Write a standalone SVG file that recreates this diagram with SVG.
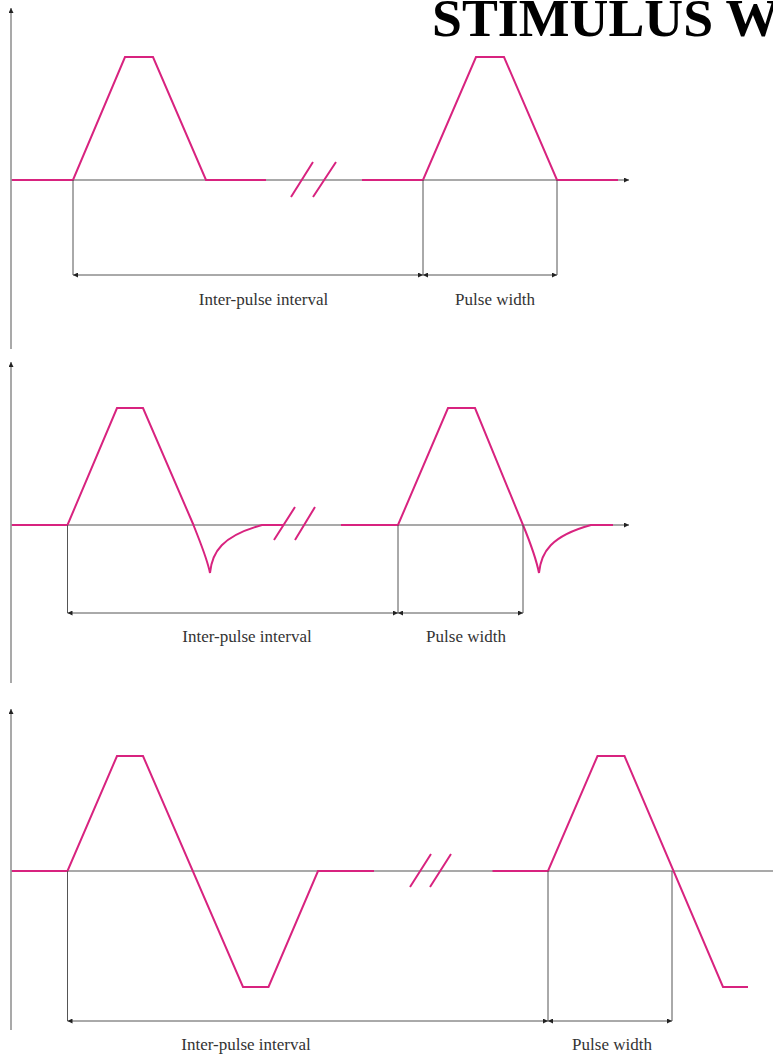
<svg xmlns="http://www.w3.org/2000/svg" width="773" height="1054" viewBox="0 0 773 1054">
<defs>
<marker id="ah" viewBox="0 0 10 10" refX="10" refY="5" markerWidth="6" markerHeight="5" markerUnits="userSpaceOnUse" orient="auto-start-reverse"><path d="M0,0 L10,5 L0,10 z" fill="#222"/></marker>
<style>
.axis{stroke:#8c8c8c;stroke-width:1.5;fill:none}
.dim{stroke:#555;stroke-width:1;fill:none}
.wave{stroke:#d8237f;stroke-width:2;fill:none;stroke-linejoin:miter}
.lbl{font-family:"Liberation Serif","Times New Roman",serif;font-size:17px;fill:#333;text-anchor:middle}
.title{font-family:"Liberation Serif","Times New Roman",serif;font-size:52px;font-weight:bold;fill:#000}
</style>
</defs>
<rect width="773" height="1054" fill="#fff"/>
<g id="title"><text class="title" transform="translate(432,36) scale(1.035,1)" x="0" y="0">STIMULUS WA</text></g>

<g id="panel1">
<line class="axis" x1="11" y1="349" x2="11" y2="8" marker-end="url(#ah)"/>
<line class="axis" x1="11" y1="180" x2="629" y2="180" marker-end="url(#ah)"/>
<path class="wave" d="M12,180 H73 L125,57 H153 L206,180 H266"/>
<path class="wave" d="M362,180 H423 L476,57 H504 L557,180 H618"/>
<path class="wave" d="M291,197 L313,162 M313,197 L336,162"/>
</g>

<g id="panel2">
<line class="axis" x1="11" y1="683" x2="11" y2="362" marker-end="url(#ah)"/>
<line class="axis" x1="11" y1="525" x2="629" y2="525" marker-end="url(#ah)"/>
<path class="wave" d="M12,525 H67.5 L117,408 H143 L193.5,525 C200,542 207,558 210,573 C212,552 222,536 262,525 H283"/>
<path class="wave" d="M341,525 H398 L448,408 H475 L523,525 C530,542 536,558 539,573 C541,552 551,536 591,525 H613"/>
<path class="wave" d="M274,540 L295,507 M295,540 L315,507"/>
</g>

<g id="panel3">
<line class="axis" x1="11" y1="1030" x2="11" y2="709" marker-end="url(#ah)"/>
<line class="axis" x1="11" y1="871" x2="773" y2="871"/>
<path class="wave" d="M12,871 H67.5 L117,756 H143 L243,987 H268.5 L318,871 H374"/>
<path class="wave" d="M492.5,871 H548 L597.5,756 H624.5 L723,987 H748"/>
<path class="wave" d="M410,887 L431,854 M430,887 L451,854"/>
</g>

<g id="connectors">
<path class="dim" d="M73,180 V275 M423,180 V275 M557,180 V275"/>
<line class="dim" x1="73" y1="275" x2="423" y2="275" marker-start="url(#ah)" marker-end="url(#ah)"/>
<line class="dim" x1="423" y1="275" x2="557" y2="275" marker-start="url(#ah)" marker-end="url(#ah)"/>
<path class="dim" d="M67.5,525 V613 M398,525 V613 M523,525 V613"/>
<line class="dim" x1="67.5" y1="613" x2="398" y2="613" marker-start="url(#ah)" marker-end="url(#ah)"/>
<line class="dim" x1="398" y1="613" x2="523" y2="613" marker-start="url(#ah)" marker-end="url(#ah)"/>
<path class="dim" d="M67.5,871 V1021 M548,871 V1021 M672,871 V1021"/>
<line class="dim" x1="67.5" y1="1021" x2="548" y2="1021" marker-start="url(#ah)" marker-end="url(#ah)"/>
<line class="dim" x1="548" y1="1021" x2="672" y2="1021" marker-start="url(#ah)" marker-end="url(#ah)"/>
</g>

<g id="labels">
<text class="lbl" x="263.5" y="305">Inter-pulse interval</text>
<text class="lbl" x="495" y="305">Pulse width</text>
<text class="lbl" x="247" y="642">Inter-pulse interval</text>
<text class="lbl" x="466" y="642">Pulse width</text>
<text class="lbl" x="246" y="1050">Inter-pulse interval</text>
<text class="lbl" x="612" y="1050">Pulse width</text>
</g>
</svg>
